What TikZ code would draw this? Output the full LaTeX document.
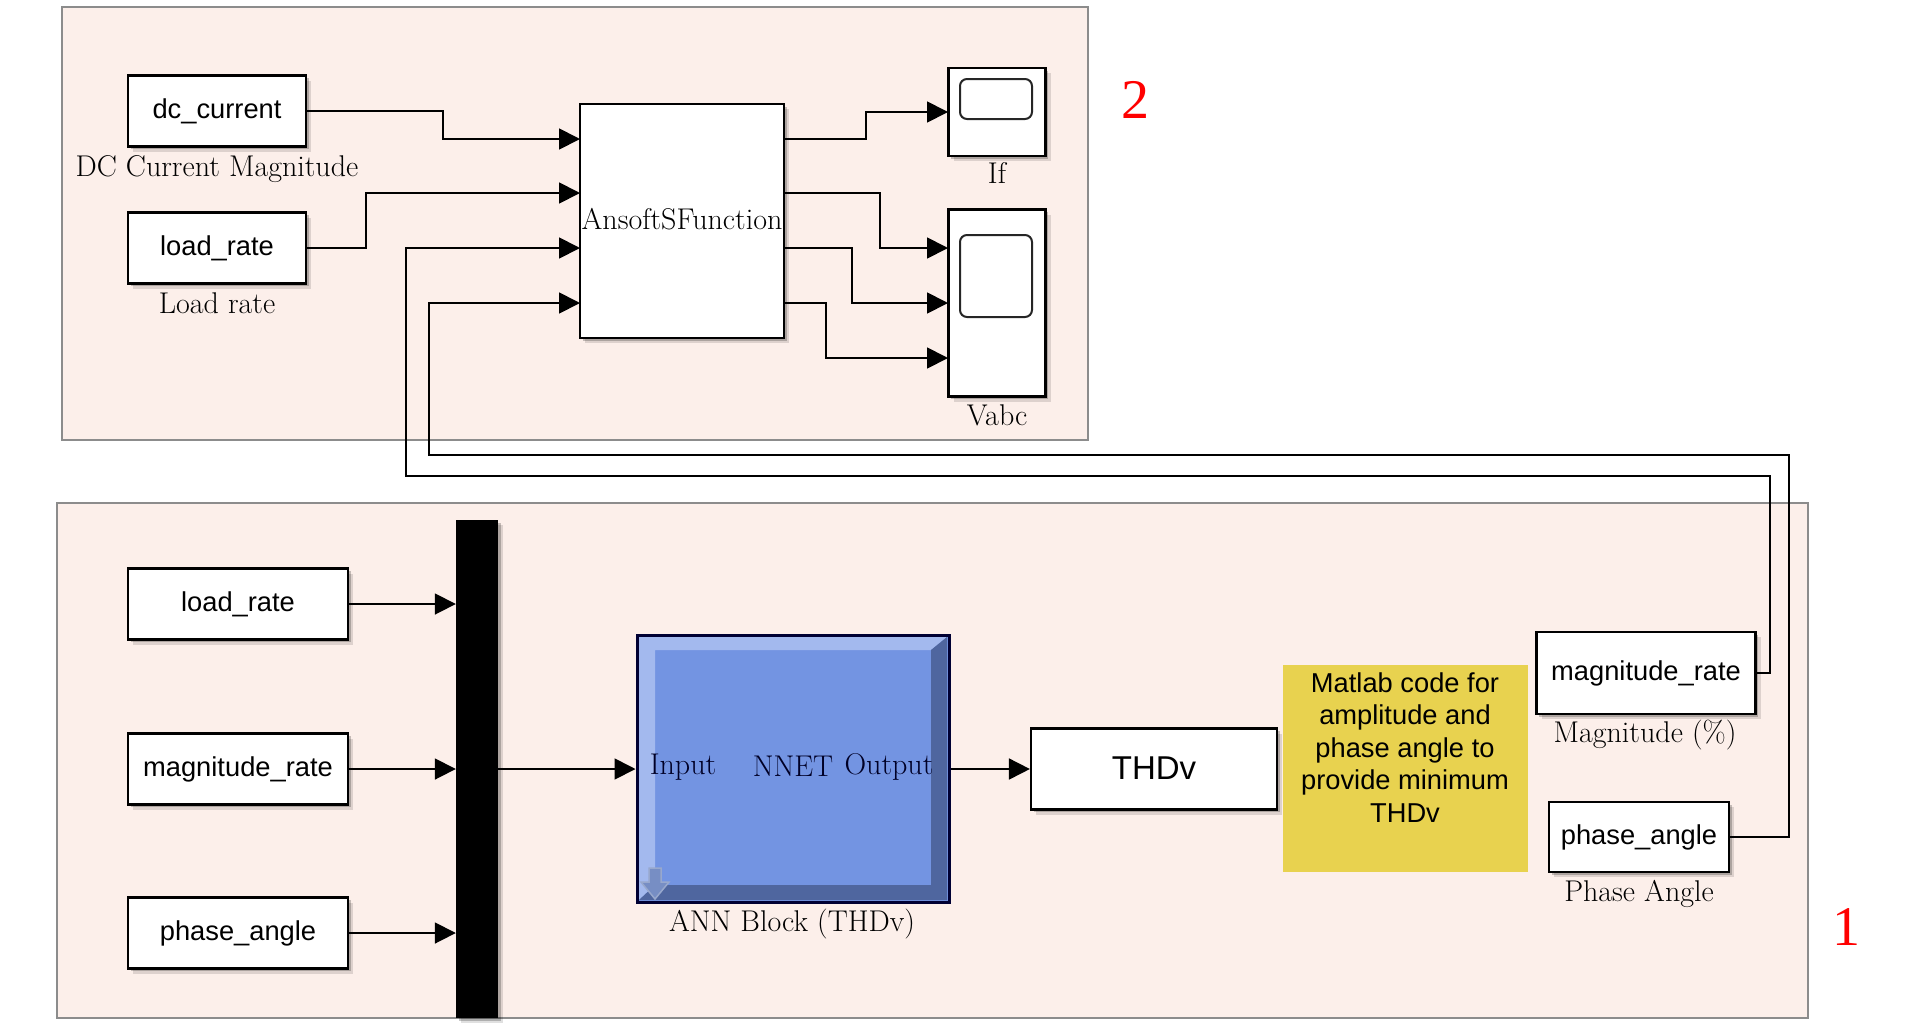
\documentclass[tikz,border=0pt]{standalone}
\usepackage{fontspec}
\setsansfont{Liberation Sans}
\newfontfamily\numfont{Liberation Serif}
\usetikzlibrary{arrows.meta}
\usetikzlibrary{shadows}
\definecolor{panelpink}{HTML}{FCEFEA}
\definecolor{annblue}{HTML}{7394E2}
\definecolor{annlight}{HTML}{A3B9EE}
\definecolor{anndark}{HTML}{4F669F}
\definecolor{noteyellow}{HTML}{E8D24F}
\tikzset{
	panel/.style={draw=black!45,fill=panelpink,line width=2pt},
	softshadow/.style={
		drop shadow={shadow xshift=5pt,shadow yshift=-5pt,fill=black,opacity=0.12},
		drop shadow={shadow xshift=2.5pt,shadow yshift=-2.5pt,fill=black,opacity=0.22}},
	blockbox/.style={draw=black,fill=white,line width=2.2pt,inner sep=0pt,softshadow,
		font=\sffamily\fontsize{27.3}{32}\selectfont},
	screen/.style={draw=black!85,fill=white,line width=2pt,rounded corners=7pt},
	lab/.style={text=black,inner sep=0pt,font=\fontsize{30}{32}\selectfont},
	tag/.style={red,font=\numfont\fontsize{56}{60}\selectfont},
	wire/.style={draw=black,line width=1.8pt},
	arrowwire/.style={wire,-{Triangle[length=21pt,width=21pt]}},
}
\begin{document}
\begin{tikzpicture}[x=1pt,y=-1pt]
			\useasboundingbox (0,0) rectangle (1913,1026);
			\def\hb{71};
			\def\wb{220};
			\def\ws{178};
			% panels
			\draw[panel] (62,7) rectangle (1088,440);
			\draw[panel] (57,503) rectangle (1808,1018);
			\node[tag] (num2) at (1135,100) {2};
			\node[tag] (num1) at (1846,927) {1};
			% upper panel
			\node[blockbox,minimum width=\ws pt,minimum height=\hb pt] (dc) at (217,111) {dc\_current};
			\node[blockbox,minimum width=\ws pt,minimum height=\hb pt] (lrup) at (217,248) {load\_rate};
			\node[lab] (dclab) at (217,169) {DC Current Magnitude};
			\node[lab] (lruplab) at (217,303) {Load rate};
			\node[blockbox,minimum width=204pt,minimum height=234pt,font=\fontsize{30}{32}\selectfont] (ansoft) at (682,221) {\raisebox{5pt}{AnsoftSFunction}};
			\node[blockbox,minimum width=97pt,minimum height=88pt] (scopeif) at (997,112) {};
			\node[blockbox,minimum width=97pt,minimum height=187pt] (scopev) at (997,303) {};
			\draw[screen] (960,79) rectangle (1032,119);
			\draw[screen] (960,235) rectangle (1032,317);
			\node[lab] (iflab) at (997,173) {If};
			\node[lab] (vlab) at (997,415) {Vabc};
			\foreach \n/\yy in {1/139,2/193,3/248,4/303} {
				\coordinate (ansin\n) at (580,\yy);
				\coordinate (ansout\n) at (784,\yy);
			}
			\foreach \n/\yy in {1/248,2/303,3/358} {
				\coordinate (vin\n) at (948,\yy);
			}
			\coordinate (ifin) at (948,112);
			\draw[arrowwire] (dc.east) -| (443,139) -- (ansin1);
			\draw[arrowwire] (lrup.east) -| (366,193) -- (ansin2);
			\draw[arrowwire] (ansout1) -| (866,112) -- (ifin);
			\draw[arrowwire] (ansout2) -| (880,248) -- (vin1);
			\draw[arrowwire] (ansout3) -| (852,303) -- (vin2);
			\draw[arrowwire] (ansout4) -| (826,358) -- (vin3);
			% lower panel
			\node[blockbox,minimum width=\wb pt,minimum height=\hb pt] (lrlow) at (238,604) {load\_rate};
			\node[blockbox,minimum width=\wb pt,minimum height=\hb pt] (mrlow) at (238,769) {magnitude\_rate};
			\node[blockbox,minimum width=\wb pt,minimum height=\hb pt] (palow) at (238,933) {phase\_angle};
			\node[fill=black,inner sep=0pt,minimum width=42pt,minimum height=498pt,softshadow] (mux) at (477,769) {};
			\foreach \src in {lrlow,mrlow,palow} {
				\draw[arrowwire] (\src.east) -- (\src.east -| mux.west);
			}
			% ANN block
			\node[draw=black!80!blue,fill=annblue,line width=3pt,inner sep=0pt,minimum width=312pt,minimum height=267pt] (ann) at (793,769) {};
			\fill[annlight] (639,637) -- (947,637) -- (931,650) -- (655,650) -- (655,885) -- (639,900) -- cycle;
			\fill[anndark] (947,637) -- (947,900) -- (639,900) -- (655,885) -- (931,885) -- (931,650) -- cycle;
			\draw[draw=annlight!70!gray,fill=annblue!70!gray,line width=1.5pt]
				(649,868) -- (661,868) -- (661,882) -- (669,882) -- (655,899) -- (641,882) -- (649,882) -- cycle;
			\node[lab,text=black!85!blue] (annin) at (683,767) {Input};
			\node[lab,text=black!85!blue] (annnet) at (793,766) {NNET};
			\node[lab,text=black!85!blue] (annout) at (889,767) {Output};
			\node[lab] (annlab) at (792,924) {ANN Block (THDv)};
			\draw[arrowwire] (mux.east |- ann.west) -- (ann.west);
			\node[blockbox,minimum width=246pt,minimum height=81pt,font=\sffamily\fontsize{33}{36}\selectfont] (thd) at (1154,769) {\raisebox{2pt}{THDv}};
			\draw[arrowwire] (ann.east) -- (thd.west);
			\node[fill=noteyellow,inner sep=0pt,minimum width=245pt,minimum height=207pt,align=center,
				font=\sffamily\fontsize{27.3}{32.5}\selectfont] (note) at (1405,768) {Matlab code for\\amplitude and\\phase angle to\\provide minimum\\THDv\\[9pt]\mbox{}};
			\node[blockbox,minimum width=219pt,minimum height=82pt] (mrout) at (1646,673) {magnitude\_rate};
			\node[blockbox,minimum width=180pt,minimum height=70pt] (paout) at (1639,837) {phase\_angle};
			\node[lab] (mrlab) at (1645,735) {Magnitude (\%)};
			\node[lab] (palab) at (1639,894) {Phase Angle};
			% feedback wires
			\draw[arrowwire] (mrout.east) -| (1770,476) -| (406,248) -- (ansin3);
			\draw[arrowwire] (paout.east) -| (1789,455) -| (429,303) -- (ansin4);
		\end{tikzpicture}
\end{document}
